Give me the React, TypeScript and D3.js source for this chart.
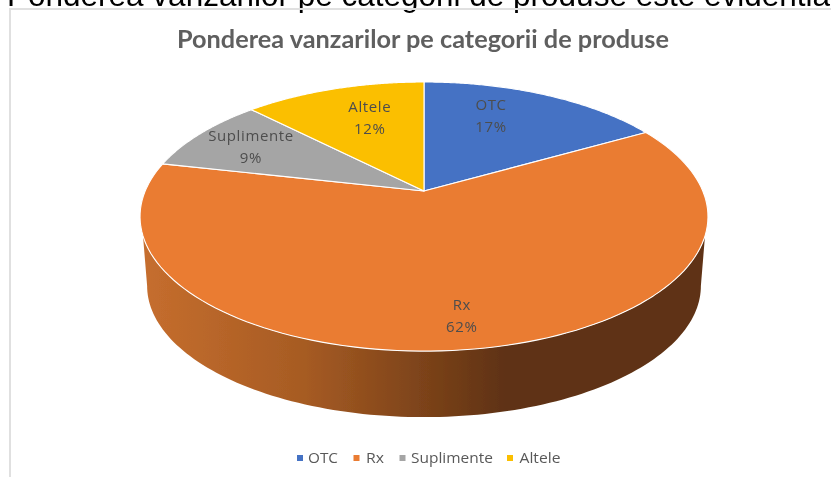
import React from "react";
import * as d3 from "d3";

const categories = ["OTC", "Rx", "Suplimente", "Altele"];
const shares = [16.8, 61.7, 9.1, 12.4];
const colors = ["#4472c4", "#ea7b31", "#a5a5a5", "#fbbf00"];
const labelNudges: [number, number][] = [[-12, -12], [9, 35], [-30, -7], [5, -6]];
const legendX = [300, 356.5, 402.5, 510];
const legendTextX = [308, 366, 411, 519.5];
const legendTextW = [30, 18, 82, 41];
const heading = "Ponderea vanzarilor pe categorii de produse este evidentiata";
const title = "Ponderea vanzarilor pe categorii de produse";

const W = 831, H = 477;
const cx = 424, cy = 191, a = 129.7, b = 278.8, k = -0.19;

// perspective projection of a unit disc, t clockwise from the top
const project = (t: number, r = 1, s = 1, yc = cy): [number, number] => {
  const u = Math.sin(t) * r, v = -Math.cos(t) * r;
  const d = 1 + k * v;
  return [cx + (s * b * u) / d, yc + (s * a * v) / d];
};

const pie = d3.pie<number>().sort(null).startAngle(0).endAngle(2 * Math.PI);
const arcs = pie(shares);
const line = d3.line();
const steps = (t0: number, t1: number, n = 120) => d3.range(n + 1).map((i) => t0 + ((t1 - t0) * i) / n);

const slicePath = (t0: number, t1: number) => line([[cx, cy], ...steps(t0, t1).map((t) => project(t))])! + "Z";

// the wall joins the top rim where it reaches y = 236 and the lower rim at its widest point
const wallV = 0.3255;
const wallT = Math.acos(-wallV);
const lowerT = Math.acos(-0.19);
const wallS = 0.975, wallYc = 261;
const wallPts: [number, number][] = [
  ...steps(2 * Math.PI - wallT, wallT).map((t) => project(t)),
  ...steps(lowerT, 2 * Math.PI - lowerT).map((t) => project(t, 1, wallS, wallYc)),
];
const wallPath = line(wallPts)! + "Z";

export default function App() {
  return (
    <svg width={W} height={H} viewBox={`0 0 ${W} ${H}`} style={{ position: "absolute", left: 0, top: 0, display: "block", background: "#fff" }}>
      <defs>
        <filter id="soft" x="-5%" y="-5%" width="110%" height="110%">
          <feGaussianBlur stdDeviation="0.55" />
        </filter>
        <linearGradient id="wall" gradientUnits="userSpaceOnUse" x1={142} x2={505} y1={0} y2={0}>
          <stop offset="0" stopColor="#c66e2e" />
          <stop offset="0.45" stopColor="#a65b23" />
          <stop offset="1" stopColor="#5f3213" />
        </linearGradient>
      </defs>
      <text x={7} y={5.5} fontFamily="'Liberation Sans'" fontSize={31.5} fill="#000" filter="url(#soft)">{heading}</text>
      <g filter="url(#soft)">
        <path d={`M10 ${H}V9H${W}`} fill="none" stroke="#e0e0e0" strokeWidth={2} />
        <text x={423} y={48} textAnchor="middle" fontFamily="Lato" fontWeight={700} fontSize={25} fill="#5f5f5f" textLength={492} lengthAdjust="spacingAndGlyphs">{title}</text>
        <path d={wallPath} fill="url(#wall)" />
        {arcs.map((d, i) => (
          <path key={i} d={slicePath(d.startAngle, d.endAngle)} fill={colors[i]} stroke="#fff" strokeWidth={1.1} strokeLinejoin="round" />
        ))}
        {arcs.map((d, i) => {
          const [x, y] = project((d.startAngle + d.endAngle) / 2, 0.62);
          const px = x + labelNudges[i][0], py = y + labelNudges[i][1];
          return (
            <text key={i} textAnchor="middle" fontFamily="'Open Sans'" fontSize={15} letterSpacing={0.6} fill="#4d4d4d">
              <tspan x={px} y={py - 6}>{categories[i]}</tspan>
              <tspan x={px} y={py + 16}>{Math.round(shares[i])}%</tspan>
            </text>
          );
        })}
        {categories.map((c, i) => (
          <g key={c}>
            <rect x={legendX[i] - 3} y={455} width={6} height={6} fill={colors[i]} />
            <text x={legendTextX[i]} y={463} fontFamily="'Open Sans'" fontSize={14.5} fill="#595959" textLength={legendTextW[i]} lengthAdjust="spacingAndGlyphs">{c}</text>
          </g>
        ))}
      </g>
    </svg>
  );
}
